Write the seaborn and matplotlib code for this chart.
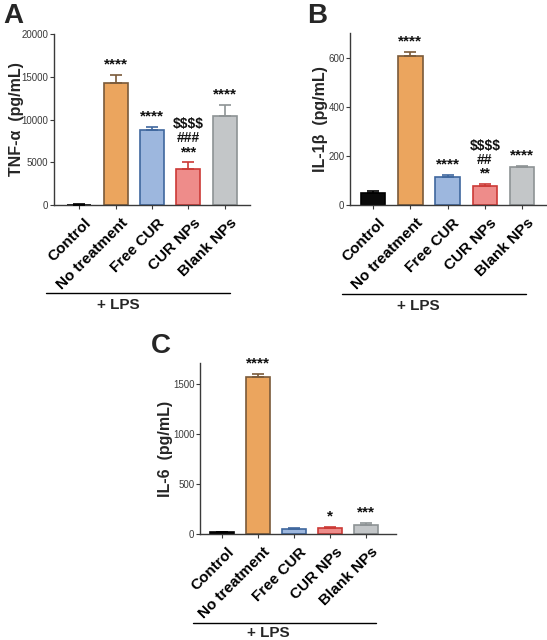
import numpy as np
import pandas as pd
import matplotlib
matplotlib.use("Agg")
import matplotlib.pyplot as plt
import matplotlib.transforms as mtransforms
import seaborn as sns

# ---------------- DATA ----------------
groups = ["Control", "No treatment", "Free CUR", "CUR NPs", "Blank NPs"]

tnf_mean = [50, 14280, 8750, 4200, 10430]
tnf_sd = [40, 900, 400, 780, 1230]
tnf_marks = ["", "****", "****", "$$$$\n###\n***", "****"]

il1b_mean = [47, 608, 113, 78, 156]
il1b_sd = [11, 14, 8, 7, 3]
il1b_marks = ["", "****", "****", "$$$$\n##\n**", "****"]

il6_mean = [17, 1570, 50, 60, 90]
il6_sd = [8, 28, 10, 8, 20]
il6_marks = ["", "****", "", "*", "***"]

fill_colors = ["#0a0a0a", "#EBA55E", "#9DB7DE", "#EE8C8A", "#C3C6C8"]
edge_colors = ["#000000", "#7A5A3A", "#3F679E", "#CC3A36", "#8E9395"]

# ---------------- SETTINGS ----------------
sns.set_style("ticks")
plt.rcParams["font.family"] = ["Liberation Sans", "DejaVu Sans"]
plt.rcParams.update({
    "axes.edgecolor": "#3a3a3a",
    "axes.linewidth": 1.0,
    "xtick.color": "#3a3a3a",
    "ytick.color": "#3a3a3a",
    "xtick.major.size": 3,
    "ytick.major.size": 3,
})

W, H = 547, 640
fig = plt.figure(figsize=(W / 100, H / 100), dpi=100)


def box(left, right, top, bottom):
    return [left / W, 1 - bottom / H, (right - left) / W, (bottom - top) / H]


def panel(rect, means, sds, marks, ylabel, ylabel_x, ylim, yticks, xlim,
          letter, letter_xy, lps_line, lps_text):
    ax = fig.add_axes(rect)
    df = pd.DataFrame({"group": groups, "value": means})
    sns.barplot(data=df, x="group", y="value", hue="group",
                palette=fill_colors, saturation=1, legend=False,
                errorbar=None, width=0.66, linewidth=1.2, ax=ax)
    for patch, ec in zip(ax.patches, edge_colors):
        patch.set_edgecolor(ec)

    centers = [p.get_x() + p.get_width() / 2 for p in ax.patches]
    tops = [p.get_height() for p in ax.patches]
    span = ylim[1] - ylim[0]
    for xc, m, sd, ec, mk in zip(centers, tops, sds, edge_colors, marks):
        ax.errorbar(xc, m, yerr=[[0], [sd]], fmt="none", ecolor=ec,
                    elinewidth=1.2, capsize=4.5, capthick=1.2, zorder=3)
        if mk:
            size = 11 if "\n" not in mk else 10
            ax.text(xc, m + sd + span * 0.02, mk, ha="center", va="bottom",
                    fontsize=size, fontweight="bold", linespacing=1.0,
                    color="#111111", parse_math=False)

    ax.set_ylim(*ylim)
    ax.set_yticks(yticks)
    ax.set_xlim(*xlim)
    ax.tick_params(axis="y", labelsize=7, pad=1)
    ax.tick_params(axis="x", pad=5)
    ax.set_xlabel("")
    ax.set_ylabel(ylabel, fontsize=11.5, fontweight="bold")
    ax.yaxis.set_label_coords(ylabel_x, 0.5)
    ax.set_xticks(range(len(groups)))
    ax.set_xticklabels(groups, rotation=45, ha="right", rotation_mode="anchor",
                       fontsize=11, fontweight="bold", color="black")
    shift = mtransforms.ScaledTranslation(0.05, 0, fig.dpi_scale_trans)
    for lab in ax.get_xticklabels():
        lab.set_transform(lab.get_transform() + shift)
    sns.despine(ax=ax)

    x0, x1, yl = lps_line
    ax.plot([x0, x1], [yl, yl], transform=ax.transAxes, color="black",
            lw=1.0, clip_on=False)
    ax.text(lps_text[0], lps_text[1], "+ LPS", transform=ax.transAxes,
            ha="center", va="center", fontsize=11, fontweight="bold")
    fig.text(letter_xy[0] / W, 1 - letter_xy[1] / H, letter, fontsize=20,
             fontweight="bold", ha="left", va="center")
    return ax


panel(box(54, 250, 34, 205), tnf_mean, tnf_sd, tnf_marks,
      "TNF-α  (pg/mL)", -0.155, (0, 20000), [0, 5000, 10000, 15000, 20000],
      (-0.69, 4.69), "A", (3, 16), (-0.04, 0.90, -0.515), (0.33, -0.585))

panel(box(350, 546, 33, 205), il1b_mean, il1b_sd, il1b_marks,
      "IL-1β  (pg/mL)", -0.11, (0, 700), [0, 200, 400, 600],
      (-0.62, 4.64), "B", (307, 16), (-0.04, 0.90, -0.515), (0.35, -0.585))

panel(box(200, 396, 363, 534), il6_mean, il6_sd, il6_marks,
      "IL-6  (pg/mL)", -0.14, (0, 1710), [0, 500, 1000, 1500],
      (-0.61, 4.83), "C", (151, 346), (-0.036, 0.90, -0.52), (0.35, -0.58))

fig.savefig("out.png", dpi=100)
